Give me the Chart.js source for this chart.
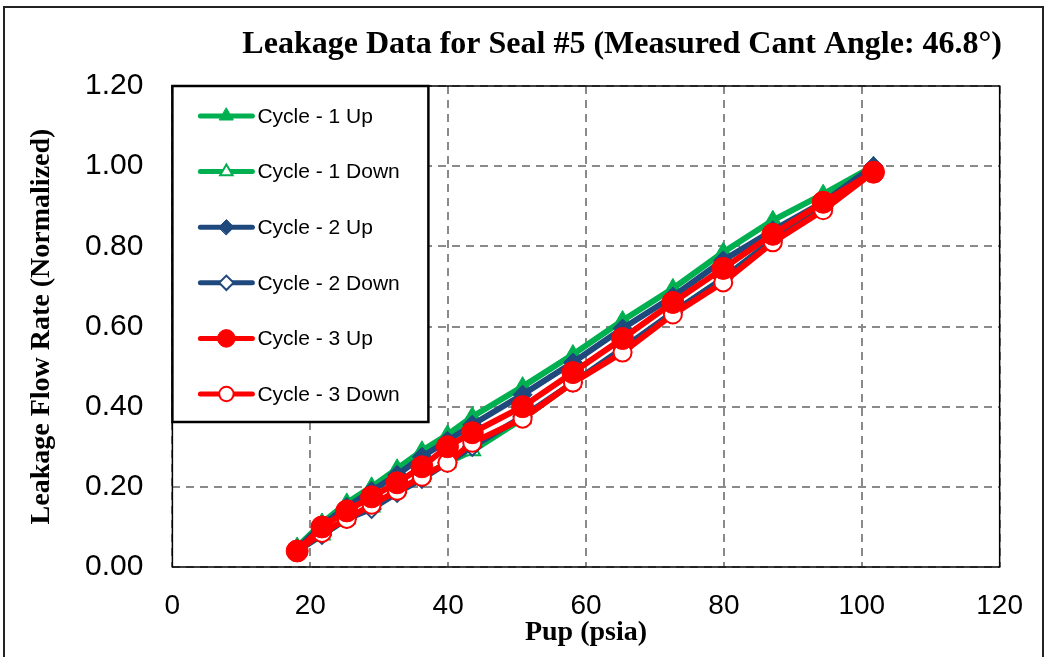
<!DOCTYPE html>
<html>
<head>
<meta charset="utf-8">
<script src="https://cdn.jsdelivr.net/npm/chart.js"></script>
<style>
  html, body { margin: 0; padding: 0; background: #fff; }
  #leakChart { display: block; }
</style>
</head>
<body>
<canvas id="leakChart" width="1048" height="657"></canvas>
<script>
// Upstream pressure (psia) for each test point
const pressure = [18.1, 21.7, 25.3, 28.9, 32.6, 36.2, 39.9, 43.5, 50.8, 58.1, 65.3, 72.6, 79.9, 87.1, 94.4, 101.7];

// Normalized leakage flow rate per cycle
const cycle1Up   = [0.05, 0.11, 0.16, 0.20, 0.245, 0.29, 0.33, 0.375, 0.45, 0.53, 0.615, 0.695, 0.785, 0.865, 0.93, 1.00];
const cycle1Down = [0.04, 0.08, 0.12, 0.15, 0.19, 0.225, 0.26, 0.29, 0.37, 0.46, 0.54, 0.635, 0.72, 0.815, 0.895, 0.99];
const cycle2Up   = [0.045, 0.105, 0.15, 0.19, 0.23, 0.275, 0.315, 0.355, 0.43, 0.51, 0.595, 0.675, 0.765, 0.84, 0.91, 1.00];
const cycle2Down = [0.04, 0.08, 0.12, 0.145, 0.185, 0.22, 0.26, 0.30, 0.375, 0.46, 0.545, 0.635, 0.72, 0.815, 0.895, 0.99];
const cycle3Up   = [0.04, 0.10, 0.14, 0.175, 0.21, 0.25, 0.30, 0.335, 0.40, 0.485, 0.57, 0.66, 0.745, 0.83, 0.91, 0.985];
const cycle3Down = [0.04, 0.085, 0.12, 0.155, 0.19, 0.225, 0.26, 0.31, 0.37, 0.46, 0.535, 0.63, 0.71, 0.81, 0.89, 0.985];

const seriesNames = ['Cycle - 1 Up', 'Cycle - 1 Down', 'Cycle - 2 Up', 'Cycle - 2 Down', 'Cycle - 3 Up', 'Cycle - 3 Down'];

const GREEN = '#00B050';
const BLUE = '#1F497D';
const RED = '#FF0000';

function toPoints(values) {
    return values.map((v, i) => ({ x: pressure[i], y: v }));
}

function series(label, values, color, style, radius, filled, order) {
    return {
        label: label,
        data: toPoints(values),
        borderColor: color,
        borderWidth: 6,
        pointStyle: style,
        pointRadius: radius,
        pointHoverRadius: radius,
        pointBackgroundColor: filled ? color : '#ffffff',
        pointBorderColor: color,
        pointBorderWidth: filled ? 1 : 2,
        tension: 0,
        fill: false,
        order: order
    };
}

// Frame around the whole figure plus white background
const figureFrame = {
    id: 'figureFrame',
    beforeDraw(chart) {
        const ctx = chart.ctx;
        ctx.save();
        ctx.fillStyle = '#ffffff';
        ctx.fillRect(0, 0, chart.width, chart.height);
        ctx.strokeStyle = '#222';
        ctx.lineWidth = 2;
        ctx.strokeRect(4, 7, 1039, 700);
        ctx.restore();
    }
};

// Solid black box around the plot area
const plotFrame = {
    id: 'plotFrame',
    beforeDatasetsDraw(chart) {
        const { ctx, chartArea: a } = chart;
        ctx.save();
        ctx.strokeStyle = '#000';
        ctx.lineWidth = 1.5;
        ctx.strokeRect(a.left, a.top, a.right - a.left, a.bottom - a.top);
        ctx.restore();
    }
};

// Boxed legend in the upper-left corner of the plot
const legendBox = {
    id: 'legendBox',
    afterDraw(chart) {
        const { ctx, chartArea: a } = chart;
        const x0 = a.left, y0 = a.top;
        ctx.save();
        ctx.fillStyle = '#ffffff';
        ctx.fillRect(x0, y0, 256, 336);
        ctx.strokeStyle = '#000';
        ctx.lineWidth = 2.5;
        ctx.strokeRect(x0, y0, 256, 336);
        chart.data.datasets.forEach((ds, i) => {
            const y = y0 + 30 + i * 55.6;
            ctx.strokeStyle = ds.borderColor;
            ctx.lineWidth = 5;
            ctx.lineCap = 'round';
            ctx.beginPath();
            ctx.moveTo(x0 + 28, y);
            ctx.lineTo(x0 + 80, y);
            ctx.stroke();
            ctx.fillStyle = ds.pointBackgroundColor;
            ctx.strokeStyle = ds.pointBorderColor;
            ctx.lineWidth = ds.pointBorderWidth;
            Chart.helpers.drawPoint(ctx, {
                pointStyle: ds.pointStyle,
                radius: ds.pointRadius * 0.8,
                rotation: 0,
                borderWidth: ds.pointBorderWidth
            }, x0 + 54, y);
            ctx.fillStyle = '#000';
            ctx.font = '21px "Liberation Sans", Arial, sans-serif';
            ctx.textAlign = 'left';
            ctx.textBaseline = 'middle';
            ctx.fillText(ds.label, x0 + 85, y + 1);
        });
        ctx.restore();
    }
};

const ctx = document.getElementById('leakChart').getContext('2d');
const leakChart = new Chart(ctx, {
    type: 'line',
    data: {
        datasets: [
            series(seriesNames[0], cycle1Up, GREEN, 'triangle', 10, true, 4),
            series(seriesNames[1], cycle1Down, GREEN, 'triangle', 9, false, 5),
            series(seriesNames[2], cycle2Up, BLUE, 'rectRot', 9.5, true, 2),
            series(seriesNames[3], cycle2Down, BLUE, 'rectRot', 9, false, 3),
            series(seriesNames[4], cycle3Up, RED, 'circle', 11, true, 0),
            series(seriesNames[5], cycle3Down, RED, 'circle', 9, false, 1)
        ]
    },
    options: {
        responsive: false,
        animation: false,
        events: [],
        layout: {
            padding: { left: 0, right: 46, top: 0, bottom: 0 }
        },
        plugins: {
            legend: { display: false },
            tooltip: { enabled: false },
            title: {
                display: true,
                text: 'Leakage Data for Seal #5 (Measured Cant Angle: 46.8°)',
                align: 'end',
                color: '#000',
                font: { family: '"Liberation Serif", "Times New Roman", serif', size: 32, weight: 'bold', lineHeight: 1.2 },
                padding: { top: 26, bottom: 21.6 }
            }
        },
        scales: {
            x: {
                type: 'linear',
                min: 0,
                max: 120,
                ticks: {
                    stepSize: 20,
                    padding: 25,
                    color: '#000',
                    font: { family: '"Liberation Sans", Arial, sans-serif', size: 28, lineHeight: 1 }
                },
                grid: { color: '#8a8a8a', lineWidth: 2, drawTicks: false },
                border: { display: false, dash: [8, 6] },
                title: {
                    display: true,
                    text: 'Pup (psia)',
                    color: '#000',
                    font: { family: '"Liberation Serif", "Times New Roman", serif', size: 28, weight: 'bold', lineHeight: 1 },
                    padding: { top: -26, bottom: 10 }
                }
            },
            y: {
                min: 0,
                max: 1.2,
                ticks: {
                    stepSize: 0.2,
                    padding: 29,
                    color: '#000',
                    font: { family: '"Liberation Sans", Arial, sans-serif', size: 30 },
                    callback: (v) => v.toFixed(2)
                },
                grid: { color: '#8a8a8a', lineWidth: 2, drawTicks: false },
                border: { display: false, dash: [8, 6] },
                title: {
                    display: true,
                    text: 'Leakage Flow Rate (Normalized)',
                    color: '#000',
                    font: { family: '"Liberation Serif", "Times New Roman", serif', size: 28, weight: 'bold', lineHeight: 1 },
                    padding: { top: 28, bottom: 0 }
                }
            }
        }
    },
    plugins: [figureFrame, plotFrame, legendBox]
});
</script>
</body>
</html>
